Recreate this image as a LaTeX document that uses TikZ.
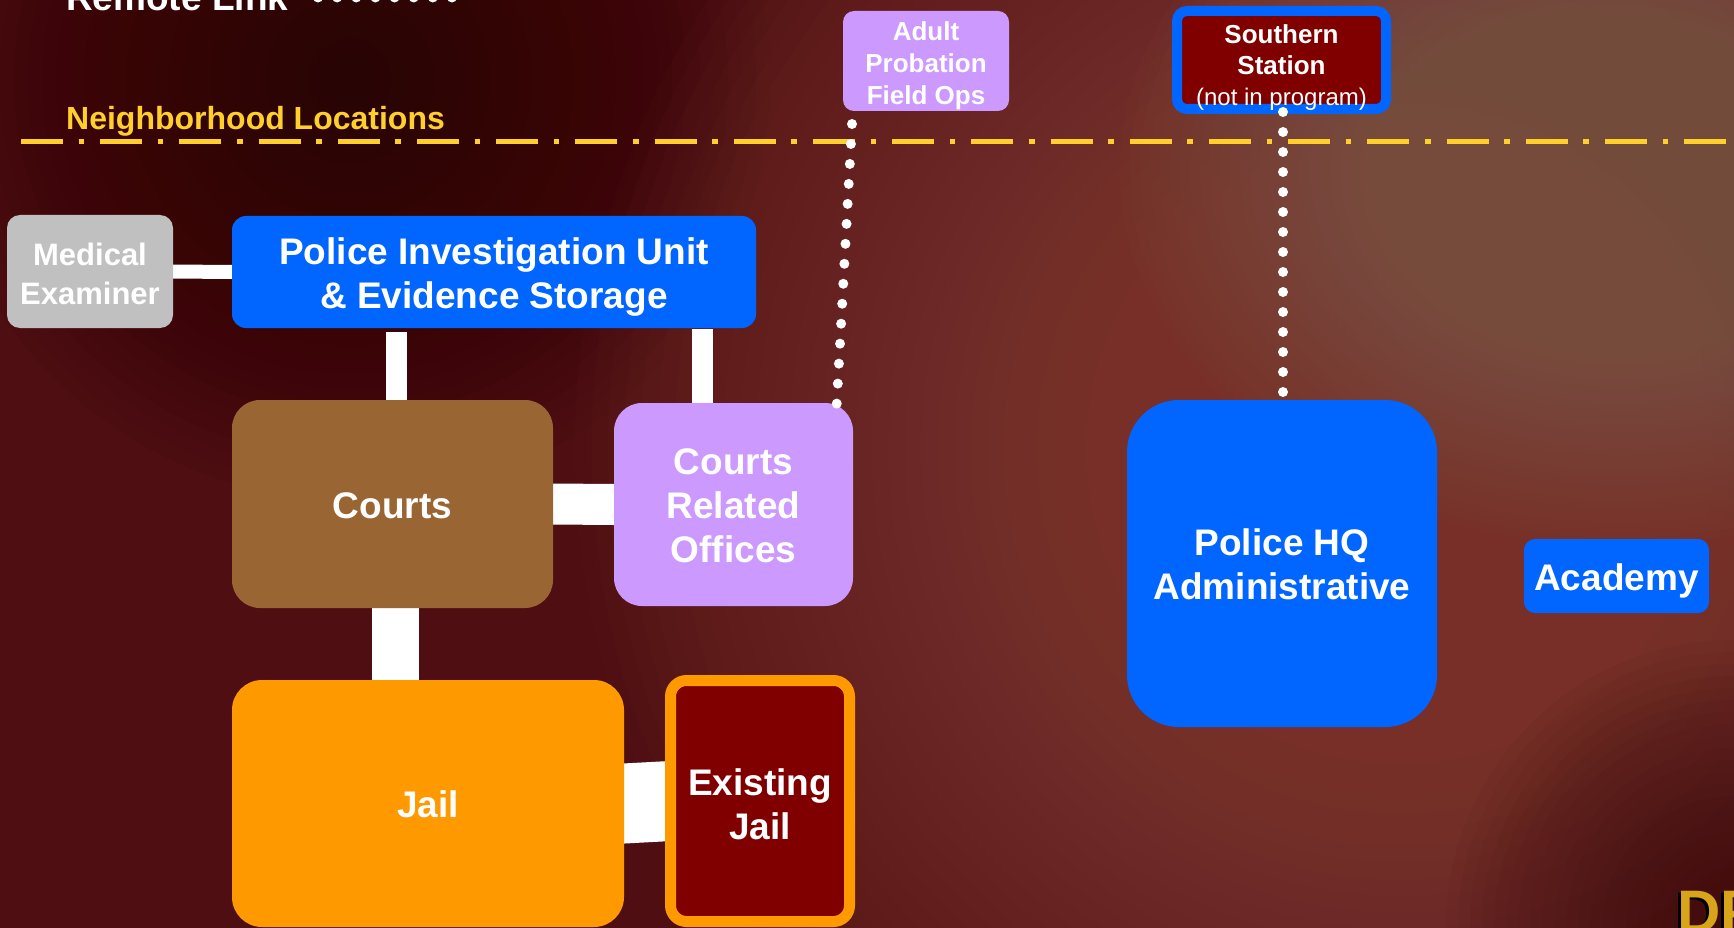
\documentclass[tikz,border=0pt]{standalone}
\usepackage{fontspec}
\setmainfont{Liberation Sans}
\usetikzlibrary{calc}
\definecolor{bgbase}{HTML}{4E0E12}
\definecolor{glowA}{HTML}{8E463E}
\definecolor{glowB}{HTML}{8C6454}
\definecolor{darkspot}{HTML}{260404}
\definecolor{darkcorner}{HTML}{3A0C0C}
\definecolor{dblue}{HTML}{0066FF}
\definecolor{lav}{HTML}{CC99FF}
\definecolor{mgray}{HTML}{C0C0C0}
\definecolor{brownc}{HTML}{996633}
\definecolor{orangec}{HTML}{FF9900}
\definecolor{dred}{HTML}{800000}
\definecolor{nbyellow}{HTML}{FFCF2B}
\definecolor{gold}{HTML}{D8A41A}
\pgfdeclarelayer{bg}
\pgfdeclarelayer{conn}
\pgfsetlayers{bg,conn,main}
\begin{document}
\begin{tikzpicture}[x=1pt,y=-1pt,
  lbl/.style={inner sep=0pt, outer sep=0pt},
  txt/.style={text=white, font=\bfseries\fontsize{37}{44}\selectfont, align=center, inner sep=0pt},
  boxblue/.style={lbl, fill=dblue},
  boxlav/.style={lbl, fill=lav},
  boxgray/.style={lbl, fill=mgray},
  boxbrown/.style={lbl, fill=brownc},
  boxorange/.style={lbl, fill=orangec},
  bar/.style={draw=white, line cap=butt, shorten <=-6pt, shorten >=-6pt},
  dotline/.style={draw=white, line width=10pt, line cap=round, dash pattern=on 0pt off 20pt},
  dashdot/.style={draw=nbyellow, line width=5pt, dash pattern=on 42pt off 15.5pt on 5.7pt off 16pt}]
\useasboundingbox (0,0) rectangle (1734,928);
\clip (0,0) rectangle (1734,928);

% background
\begin{pgfonlayer}{bg}
\fill[bgbase] (0,0) rectangle (1734,928);
\foreach \i in {1,...,30} \fill[darkspot, opacity=0.04] (350,80) circle[radius={\i*14pt}];
\foreach \i in {1,...,50} \fill[glowA, opacity=0.042] (1400,450) circle[radius={\i*16.5pt}];
\foreach \i in {1,...,50} \fill[glowB, opacity=0.04] (1620,170) circle[x radius={\i*10pt}, y radius={\i*7.5pt}];
\foreach \i in {1,...,24} \fill[darkcorner, opacity=0.05] (1734,928) circle[radius={\i*12pt}];
\end{pgfonlayer}

% legend and boundary
\node[anchor=base west, text=white, font=\bfseries\fontsize{37}{44}\selectfont, inner sep=0pt] (rl) at (66,11) {Remote Link};
\coordinate (rl1) at (318,-2.5);
\coordinate (rl2) at (452,-2.5);
\draw[draw=white, line width=10pt, line cap=round, dash pattern=on 0pt off 19.14pt] (rl1) -- (rl2);
\node[anchor=base west, text=nbyellow, font=\bfseries\fontsize{32}{38}\selectfont, inner sep=0pt] (nl) at (66,130) {Neighborhood Locations};
\coordinate (dl1) at (21,142);
\coordinate (dl2) at (1740,142);
\draw[dashdot] (dl1) -- (dl2);

% nodes
\node[boxgray, minimum width=166pt, minimum height=113pt, rounded corners=13pt,
  label={[txt, font=\bfseries\fontsize{31}{39}\selectfont, yshift=-2pt]center:Medical\\Examiner}] (me) at (90,271.5) {};
\node[boxblue, minimum width=524pt, minimum height=112pt, rounded corners=14pt,
  label={[txt, yshift=-5.5pt]center:Police Investigation Unit\\\& Evidence Storage}] (piu) at (494,272) {};
\node[boxbrown, minimum width=321pt, minimum height=208pt, rounded corners=28pt,
  label={[txt, yshift=-2pt]center:Courts}] (courts) at (392.5,504) {};
\node[boxlav, minimum width=239pt, minimum height=203pt, rounded corners=28pt,
  label={[txt, yshift=-1pt]center:Courts\\Related\\Offices}] (cro) at (733.5,504.5) {};
\node[boxorange, minimum width=392pt, minimum height=247pt, rounded corners=30pt,
  label={[txt, yshift=-1pt]center:Jail}] (jail) at (428,803.5) {};
\node[lbl, fill=dred, draw=orangec, line width=11pt, minimum width=179pt, minimum height=241pt, rounded corners=16pt,
  label={[txt, yshift=-3.5pt]center:Existing\\Jail}] (ej) at (760,801) {};
\node[boxblue, minimum width=310pt, minimum height=327pt, rounded corners=52pt,
  label={[txt, yshift=-1pt]center:Police HQ\\Administrative}] (hq) at (1282,563.5) {};
\node[boxblue, minimum width=185pt, minimum height=74pt, rounded corners=11pt,
  label={[txt, yshift=-4.5pt]center:Academy}] (acad) at (1616.5,576) {};
\node[boxlav, minimum width=166pt, minimum height=100pt, rounded corners=11pt,
  label={[txt, font=\bfseries\fontsize{26}{32}\selectfont, yshift=-4.5pt]center:Adult\\Probation\\Field Ops}] (ap) at (926,61) {};
\node[lbl, fill=dred, draw=dblue, line width=10pt, minimum width=209pt, minimum height=98pt, rounded corners=10pt,
  label={[txt, font=\bfseries\fontsize{26}{31}\selectfont, yshift=-7.5pt]center:Southern\\Station\\{\mdseries\fontsize{24}{31}\selectfont(not in program)}}] (ss) at (1281.5,60) {};

% white connector bars
\begin{pgfonlayer}{conn}
\coordinate (bx1) at (396,0);
\coordinate (bx2) at (702.5,0);
\coordinate (bx3) at (395.5,0);
\draw[bar, line width=14pt] (me.east) -- (piu.west);
\draw[draw=white, line width=21pt] ([yshift=-4pt]bx1 |- piu.south) -- ([yshift=-6pt]bx1 |- courts.north);
\draw[draw=white, line width=21pt] ([yshift=-1pt]bx2 |- piu.south) -- ([yshift=-6pt]bx2 |- cro.north);
\draw[bar, line width=41pt] (courts.east) -- (cro.west);
\draw[bar, line width=47pt] (bx3 |- courts.south) -- (bx3 |- jail.north);
\draw[bar, line width=80pt] (jail.east) -- (ej.west);
\end{pgfonlayer}

% remote (dotted) links
\draw[dotline] ([xshift=9pt,yshift=-13pt]ap.south west) -- ([xshift=-16.5pt,yshift=-5pt]cro.north east);
\draw[dotline] ([xshift=1.5pt,yshift=-3pt]ss.south) -- ([xshift=1pt,yshift=2pt]hq.north);

% logo fragment
\node[anchor=north west, inner sep=0pt, text=black, font=\bfseries\fontsize{60}{60}\selectfont] (dps) at (1674,893) {DP};
\node[anchor=north west, inner sep=0pt, text=gold, font=\bfseries\fontsize{60}{60}\selectfont] (dp) at (1677,891) {DP};
\end{tikzpicture}
\end{document}
